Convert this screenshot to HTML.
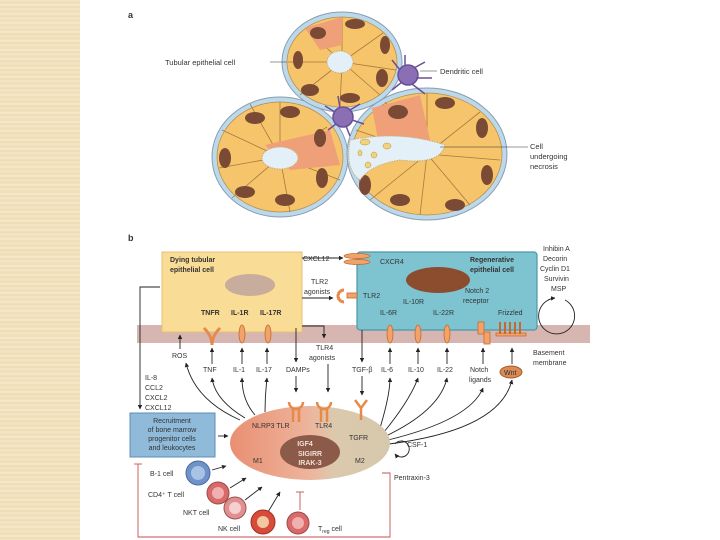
<!DOCTYPE html>
<html><head><meta charset="utf-8"><style>
html,body{margin:0;padding:0;background:#fff;}
body{width:720px;height:540px;position:relative;overflow:hidden;font-family:"Liberation Sans",sans-serif;}
.band{position:absolute;left:0;top:0;width:80px;height:540px;background:repeating-linear-gradient(180deg,#f3e6c6 0,#efdcb5 3px,#f8eccd 5px,#ecd9b0 7px,#f5e8c8 9px);}
svg{position:absolute;left:0;top:0;}
text{font-family:"Liberation Sans",sans-serif;fill:#333;}
</style></head><body>
<div class="band"></div>
<svg width="720" height="540" viewBox="0 0 720 540">
<defs>
<linearGradient id="mac" x1="0" x2="1"><stop offset="0" stop-color="#e98f73"/><stop offset="0.5" stop-color="#edb59c"/><stop offset="0.65" stop-color="#dcc9ad"/><stop offset="1" stop-color="#d6c8ac"/></linearGradient>
<marker id="ar" viewBox="0 0 10 10" refX="9" refY="5" markerWidth="5" markerHeight="5" orient="auto"><path d="M0,0L10,5L0,10z" fill="#222"/></marker>
</defs>
<!-- panel a -->
<text x="128" y="18" font-size="9" font-weight="bold">a</text>
<g stroke="#8a9db0" stroke-width="1">
<ellipse cx="280" cy="157" rx="68" ry="60" fill="#bcd9ec"/>
<ellipse cx="427" cy="154" rx="80" ry="66" fill="#bcd9ec"/>
<ellipse cx="342" cy="62" rx="60" ry="50" fill="#bcd9ec"/>
</g>
<g fill="#f6c46a" stroke="#b38a4a" stroke-width="0.7">
<ellipse cx="280" cy="157" rx="63" ry="55"/>
<ellipse cx="427" cy="154" rx="75" ry="61"/>
<ellipse cx="342" cy="62" rx="55" ry="45"/>
</g>
<g stroke="#a57a3e" stroke-width="0.8">
<path d="M280,157L280,102M280,157L327,127M280,157L340,180M280,157L290,212M280,157L232,198M280,157L219,168M280,157L222,130M280,157L250,104"/>
<path d="M427,154L427,93M427,154L480,112M427,154L500,160M427,154L470,205M427,154L420,215M427,154L370,200M427,154L356,130M427,154L385,102"/>
<path d="M342,62L342,17M342,62L383,33M342,62L396,70M342,62L380,95M342,62L340,107M342,62L300,95M342,62L288,62M342,62L305,28"/>
</g>
<path d="M265,145L330,130L340,165L290,170z" fill="#f0a078"/>
<path d="M372,108L420,95L430,140L380,150z" fill="#f0a078"/>
<path d="M305,28L342,17L342,45L320,50z" fill="#f0a078"/>
<g fill="#7a4a34">
<ellipse cx="255" cy="118" rx="10" ry="6"/><ellipse cx="225" cy="158" rx="6" ry="10"/><ellipse cx="245" cy="192" rx="10" ry="6"/><ellipse cx="285" cy="200" rx="10" ry="6"/><ellipse cx="322" cy="178" rx="6" ry="10"/><ellipse cx="290" cy="112" rx="10" ry="6"/><ellipse cx="320" cy="138" rx="6" ry="9"/>
<ellipse cx="398" cy="112" rx="10" ry="7"/><ellipse cx="445" cy="103" rx="10" ry="6"/><ellipse cx="482" cy="128" rx="6" ry="10"/><ellipse cx="487" cy="175" rx="6" ry="10"/><ellipse cx="455" cy="205" rx="10" ry="6"/><ellipse cx="400" cy="200" rx="10" ry="6"/><ellipse cx="365" cy="185" rx="6" ry="10"/>
<ellipse cx="318" cy="33" rx="8" ry="6"/><ellipse cx="355" cy="24" rx="10" ry="5"/><ellipse cx="385" cy="45" rx="5" ry="9"/><ellipse cx="382" cy="78" rx="6" ry="9"/><ellipse cx="350" cy="98" rx="10" ry="5"/><ellipse cx="310" cy="90" rx="9" ry="6"/><ellipse cx="298" cy="60" rx="5" ry="9"/>
</g>
<g fill="#e4f0f8" stroke="#c8b080" stroke-width="1" stroke-dasharray="1.5 1">
<ellipse cx="280" cy="158" rx="18" ry="11"/>
<ellipse cx="340" cy="62" rx="13" ry="11"/>
<path d="M350,140 Q400,130 445,145 Q440,165 400,160 Q370,165 360,180 Q345,170 350,140z"/>
</g>
<g fill="#f2d27a" stroke="#b89040" stroke-width="0.5"><ellipse cx="365" cy="142" rx="5" ry="3"/><ellipse cx="387" cy="146" rx="4" ry="3"/><ellipse cx="374" cy="155" rx="3" ry="3"/><ellipse cx="360" cy="153" rx="2" ry="3"/><ellipse cx="368" cy="165" rx="3" ry="3"/></g>
<g fill="#8a6fb5" stroke="#6b4f96" stroke-width="1.5">
<circle cx="408" cy="75" r="10"/><path d="M400,70L392,60M405,66L405,55M414,68L425,62M416,78L432,78M412,84L425,94M402,82L392,90" fill="none"/>
<circle cx="343" cy="117" r="10"/><path d="M335,112L325,106M340,108L338,96M350,110L360,104M352,120L364,124M346,126L350,136M336,124L328,130" fill="none"/>
</g>
<text x="165" y="65" font-size="7.5">Tubular epithelial cell</text>
<line x1="270" y1="62" x2="287" y2="62" stroke="#333" stroke-width="0.6"/>
<text x="440" y="74" font-size="7.5">Dendritic cell</text>
<line x1="420" y1="71" x2="437" y2="71" stroke="#333" stroke-width="0.6"/>
<text x="530" y="149" font-size="7.5">Cell</text><text x="530" y="159" font-size="7.5">undergoing</text><text x="530" y="169" font-size="7.5">necrosis</text>
<line x1="440" y1="147" x2="528" y2="147" stroke="#333" stroke-width="0.6"/>

<!-- panel b -->
<text x="128" y="241" font-size="9" font-weight="bold">b</text>
<rect x="137" y="325" width="453" height="18" fill="#d7b6b2"/>
<rect x="162" y="252" width="140" height="80" fill="#f9dc95" stroke="#e8c070" stroke-width="1"/>
<ellipse cx="250" cy="285" rx="25" ry="11" fill="#c9ad9c"/>
<text x="170" y="262" font-size="7" font-weight="bold">Dying tubular</text>
<text x="170" y="272" font-size="7" font-weight="bold">epithelial cell</text>
<rect x="357" y="252" width="180" height="78" rx="3" fill="#7ec3d0" stroke="#4a98aa" stroke-width="1.2"/>
<ellipse cx="438" cy="280" rx="32" ry="13" fill="#8c4d2e"/>
<text x="470" y="262" font-size="7" font-weight="bold">Regenerative</text>
<text x="470" y="272" font-size="7" font-weight="bold">epithelial cell</text>
<g font-size="7">
<text x="303" y="261">CXCL12</text><text x="380" y="264">CXCR4</text>
<text x="311" y="284">TLR2</text><text x="304" y="294">agonists</text>
<text x="363" y="298">TLR2</text>
<text x="201" y="315" font-weight="bold">TNFR</text><text x="231" y="315" font-weight="bold">IL-1R</text><text x="260" y="315" font-weight="bold">IL-17R</text>
<text x="380" y="315">IL-6R</text><text x="403" y="304">IL-10R</text><text x="433" y="315">IL-22R</text>
<text x="465" y="293">Notch 2</text><text x="463" y="303">receptor</text><text x="498" y="315">Frizzled</text>
<text x="543" y="251">Inhibin A</text><text x="543" y="261">Decorin</text><text x="540" y="271">Cyclin D1</text><text x="544" y="281">Survivin</text><text x="551" y="291">MSP</text>
<text x="533" y="355">Basement</text><text x="533" y="365">membrane</text>
<text x="172" y="358">ROS</text><text x="203" y="372">TNF</text><text x="233" y="372">IL-1</text><text x="256" y="372">IL-17</text><text x="286" y="372">DAMPs</text>
<text x="316" y="350">TLR4</text><text x="309" y="360">agonists</text>
<text x="352" y="372">TGF-β</text><text x="381" y="372">IL-6</text><text x="408" y="372">IL-10</text><text x="437" y="372">IL-22</text>
<text x="470" y="372">Notch</text><text x="469" y="382">ligands</text>
<text x="145" y="380">IL-8</text><text x="145" y="390">CCL2</text><text x="145" y="400">CXCL2</text><text x="145" y="410">CXCL12</text>
<text x="407" y="447">CSF-1</text><text x="394" y="480">Pentraxin-3</text>
</g>
<ellipse cx="511" cy="372" rx="11" ry="6" fill="#d98a55" stroke="#a85a30"/><text x="504" y="375" font-size="7" fill="#fff">Wnt</text>
<!-- receptors -->
<g fill="#f2a36a" stroke="#c46a30" stroke-width="0.8">
<ellipse cx="357" cy="256" rx="13" ry="2.5"/><ellipse cx="357" cy="262" rx="13" ry="2.5"/>
<rect x="347" y="293" width="10" height="5"/>
<ellipse cx="242" cy="334" rx="3" ry="9"/><ellipse cx="268" cy="334" rx="3" ry="9"/>
<ellipse cx="390" cy="334" rx="3" ry="9"/><ellipse cx="418" cy="334" rx="3" ry="9"/><ellipse cx="447" cy="334" rx="3" ry="9"/>
<rect x="478" y="322" width="6" height="12"/><rect x="484" y="332" width="6" height="12"/>
<path d="M496,336h30v-3h-30z"/><path d="M500,322v12M505,322v12M510,322v12M515,322v12M520,322v12" stroke-width="2" fill="none"/>
</g>
<path d="M204,328Q212,336 212,345M220,328Q212,336 212,345" stroke="#e68a4a" stroke-width="3" fill="none"/>
<path d="M344,290a6,6 0 1,0 0,12" stroke="#e68a4a" stroke-width="3" fill="none"/>
<!-- arrows black -->
<g stroke="#222" stroke-width="0.9" fill="none" marker-end="url(#ar)">
<line x1="302" y1="258" x2="343" y2="258"/>
<line x1="302" y1="298" x2="333" y2="298"/>
<path d="M302,326h22v12"/>
<line x1="296" y1="328" x2="296" y2="362"/>
<line x1="328" y1="364" x2="328" y2="392"/>
<line x1="362" y1="330" x2="362" y2="362"/>
<line x1="296" y1="376" x2="296" y2="392"/>
<line x1="362" y1="376" x2="362" y2="395"/>
<line x1="180" y1="349" x2="180" y2="335"/><line x1="212" y1="364" x2="212" y2="348"/><line x1="242" y1="364" x2="242" y2="348"/><line x1="267" y1="364" x2="267" y2="348"/>
<line x1="390" y1="364" x2="390" y2="348"/><line x1="418" y1="364" x2="418" y2="348"/><line x1="447" y1="364" x2="447" y2="348"/><line x1="483" y1="364" x2="483" y2="348"/><line x1="512" y1="364" x2="512" y2="348"/>
<path d="M240,420Q195,400 186,363"/><path d="M245,418Q215,400 212,378"/><path d="M255,415Q242,400 242,378"/><path d="M265,412Q265,395 267,378"/>
<path d="M380,428Q390,395 390,378"/><path d="M384,432Q410,400 418,378"/><path d="M386,436Q440,410 447,378"/><path d="M388,440Q470,420 483,388"/><path d="M389,444Q500,430 512,380"/>
<path d="M160,287h-20v122"/>
<line x1="218" y1="436" x2="228" y2="436"/>
<line x1="212" y1="470" x2="226" y2="466"/><line x1="230" y1="488" x2="246" y2="478"/><line x1="245" y1="500" x2="262" y2="487"/><line x1="268" y1="512" x2="280" y2="492"/>
<path d="M395,444a8,8 0 1,1 0,10"/>
<path d="M565,300a18,18 0 1,1 -10,-2"/>
</g>
<!-- recruitment box -->
<rect x="130" y="413" width="85" height="44" fill="#8fbad9" stroke="#5d8fb8"/>
<g font-size="7" text-anchor="middle"><text x="172" y="423">Recruitment</text><text x="172" y="432">of bone marrow</text><text x="172" y="441">progenitor cells</text><text x="172" y="450">and leukocytes</text></g>
<!-- macrophage -->
<ellipse cx="310" cy="443" rx="80" ry="37" fill="url(#mac)"/>
<ellipse cx="310" cy="452" rx="30" ry="17" fill="#8c5a48"/>
<g font-size="7" fill="#fff" text-anchor="middle" font-weight="bold"><text x="305" y="446" style="fill:#f0e0d8">IGF4</text><text x="310" y="456" style="fill:#f0e0d8">SIGIRR</text><text x="310" y="465" style="fill:#f0e0d8">IRAK-3</text></g>
<g font-size="7"><text x="253" y="463">M1</text><text x="355" y="463">M2</text><text x="252" y="428">NLRP3 TLR</text><text x="315" y="428">TLR4</text><text x="349" y="440">TGFR</text></g>
<g stroke="#e68a4a" stroke-width="2.5" fill="none"><path d="M289,402a7,7 0 1,0 14,0M293,408v14M299,408v14M317,402a7,7 0 1,0 14,0M321,408v14M327,408v14M355,400l6,8l6,-8M361,408v12"/></g>
<!-- cells -->
<circle cx="198" cy="473" r="12" fill="#6f92c8" stroke="#4a6aa0"/><circle cx="198" cy="473" r="7" fill="#a9c3e6"/>
<circle cx="218" cy="493" r="11" fill="#d96a6a" stroke="#a04848"/><circle cx="218" cy="493" r="6" fill="#f0b0b0"/>
<circle cx="235" cy="508" r="11" fill="#e09090" stroke="#a05050"/><circle cx="235" cy="508" r="6" fill="#f6d0d0"/>
<circle cx="263" cy="522" r="12" fill="#d84a3a" stroke="#a03020"/><circle cx="263" cy="522" r="6" fill="#f3c8a0"/>
<circle cx="298" cy="523" r="11" fill="#d86a6a" stroke="#a04848"/><circle cx="298" cy="523" r="6" fill="#f0b0b0"/>
<g font-size="7"><text x="150" y="476">B-1 cell</text><text x="148" y="497">CD4⁺ T cell</text><text x="183" y="515">NKT cell</text><text x="218" y="531">NK cell</text><text x="318" y="531">T<tspan font-size="5" dy="2">reg</tspan><tspan dy="-2"> cell</tspan></text></g>
<!-- red inhibitory lines -->
<g stroke="#c45050" stroke-width="0.9" fill="none">
<path d="M138,464V537H390V473H382"/><line x1="134" y1="464" x2="142" y2="464"/>
<line x1="300" y1="510" x2="300" y2="492"/><line x1="296" y1="492" x2="304" y2="492"/>
</g>
</svg>
</body></html>
